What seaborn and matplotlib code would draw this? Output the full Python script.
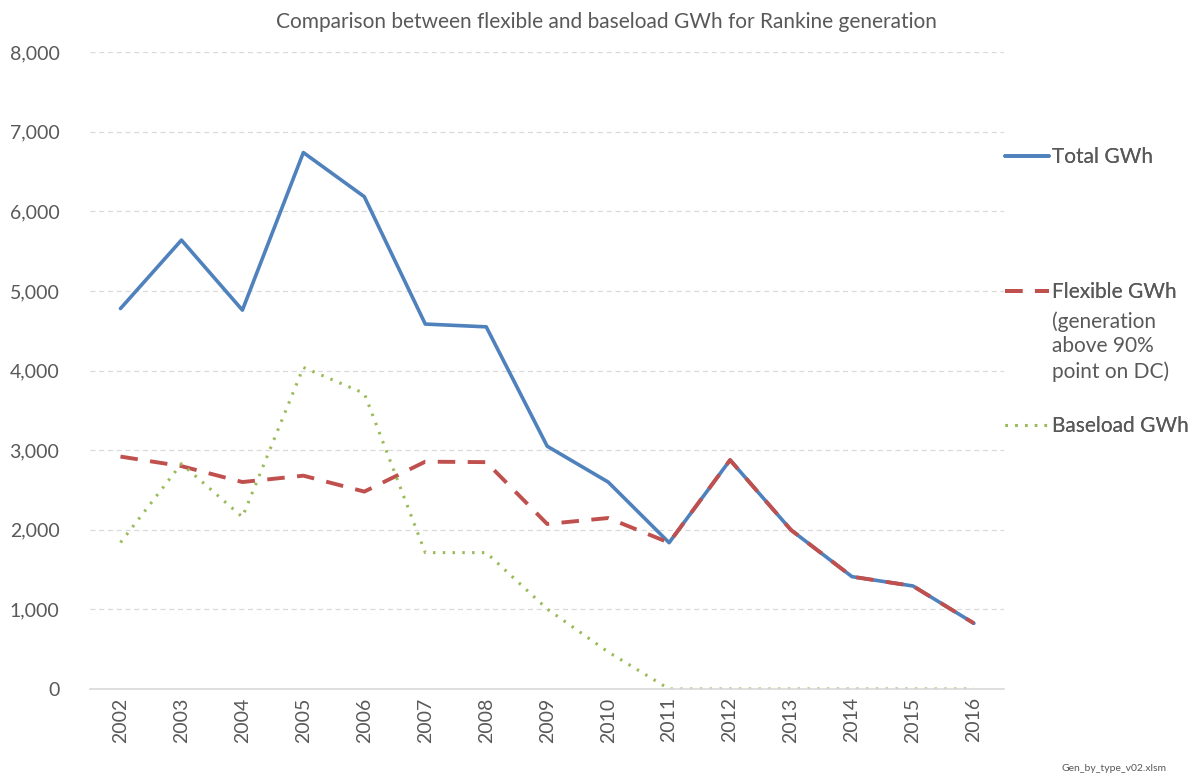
import pandas as pd
import matplotlib.pyplot as plt
import seaborn as sns
from matplotlib.ticker import FuncFormatter

years = list(range(2002, 2017))
total_gwh = [4780, 5640, 4760, 6740, 6185, 4585, 4550, 3050, 2600, 1838,
             2877, 1997, 1411, 1294, 825]
flexible_gwh = [2920, 2800, 2600, 2680, 2480, 2856, 2850, 2073, 2148, 1838,
                2877, 1997, 1411, 1294, 825]
baseload_gwh = [1840, 2830, 2160, 4040, 3714, 1713, 1713, 1005, 465, 0,
                0, 0, 0, 0, 0]

labels = ['Total GWh', 'Flexible GWh', 'Baseload GWh']
flexible_note = '(generation\nabove 90%\npoint on DC)'


def main():
    df = pd.DataFrame({'Year': years, 'Total': total_gwh,
                       'Flexible': flexible_gwh, 'Baseload': baseload_gwh})

    sns.set_style('white')
    plt.rcParams['font.family'] = ['Lato', 'DejaVu Sans']
    grey = '#595959'

    fig = plt.figure(figsize=(12, 7.8), dpi=100)
    ax = fig.add_axes([0.075, 0.1167, 0.762, 0.8163])

    sns.lineplot(data=df, x='Year', y='Total', ax=ax, color='#4F81BD',
                 lw=2.6, label=labels[0])
    sns.lineplot(data=df, x='Year', y='Flexible', ax=ax, color='#C0504D',
                 lw=2.8, label=labels[1])
    sns.lineplot(data=df, x='Year', y='Baseload', ax=ax, color='#9BBB59',
                 lw=2.2, label=labels[2])
    lines = ax.get_lines()
    lines[1].set_dashes((4.5, 3.2))
    lines[2].set_dashes((0.8, 2.4))

    ax.set_xlim(2001.5, 2016.5)
    ax.set_ylim(0, 8000)
    ax.set_xticks(years)
    ax.set_xticklabels([str(y) for y in years], rotation=90, fontsize=14,
                       color=grey)
    ax.set_yticks(range(0, 8001, 1000))
    ax.yaxis.set_major_formatter(FuncFormatter(lambda v, p: f'{int(v):,}'))
    ax.tick_params(axis='y', labelsize=14, colors=grey, length=0, pad=22)
    ax.tick_params(axis='x', length=0, pad=6)
    ax.yaxis.grid(True, color='#d9d9d9', linestyle=(0, (4, 3)), lw=0.9)
    ax.set_axisbelow(True)
    for s in ['top', 'right', 'left']:
        ax.spines[s].set_visible(False)
    ax.spines['bottom'].set_color('#d9d9d9')
    ax.spines['bottom'].set_linewidth(1.2)
    ax.set_xlabel('')
    ax.set_ylabel('')

    fig.text(0.505, 0.972, 'Comparison between flexible and baseload GWh '
             'for Rankine generation', ha='center', va='center',
             fontsize=15, color=grey)
    fig.text(0.972, 0.009, 'Gen_by_type_v02.xlsm', ha='right',
             va='bottom', fontsize=7.5, color=grey)

    ax.get_legend().remove()
    ypos = [0.7987, 0.6256, 0.4538]
    legends = []
    for h, lab, yy in zip(lines, labels, ypos):
        leg = fig.legend([h], [lab], loc='center left',
                         bbox_to_anchor=(0.822, yy), frameon=False,
                         fontsize=15, handlelength=2.1,
                         handletextpad=0.15, labelcolor=grey)
        fig.add_artist(leg)
        legends.append(leg)

    # rest of the flexible label, lined up under its legend text
    fig.canvas.draw()
    bb = legends[1].get_texts()[0].get_window_extent()
    x0 = bb.x0 / fig.bbox.width
    fig.text(x0, 0.5558, flexible_note, ha='left', va='center',
             fontsize=15, color=grey, linespacing=1.3)

    fig.savefig('out.png', dpi=100)


if __name__ == '__main__':
    main()
